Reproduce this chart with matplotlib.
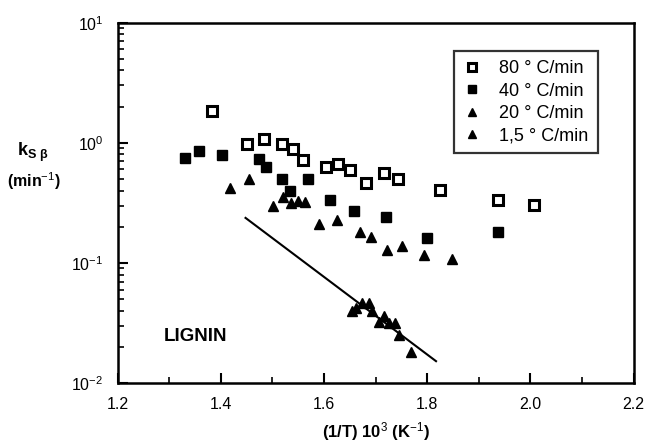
import matplotlib.pyplot as plt
from matplotlib.ticker import LogLocator, MultipleLocator, NullFormatter
import numpy as np

plt.rcParams['font.family'] = ['Liberation Sans', 'DejaVu Sans']
plt.rcParams['mathtext.fontset'] = 'custom'
plt.rcParams['mathtext.rm'] = 'Liberation Sans'
plt.rcParams['mathtext.it'] = 'Liberation Sans'
plt.rcParams['mathtext.bf'] = 'Liberation Sans:bold'

# 80 C/min (open squares)
x80 = [1.383, 1.450, 1.483, 1.518, 1.539, 1.559, 1.604, 1.628, 1.651, 1.681,
       1.716, 1.743, 1.825, 1.937, 2.007]
k80 = [1.85, 0.972, 1.076, 0.977, 0.893, 0.72, 0.632, 0.662, 0.594, 0.46,
       0.557, 0.502, 0.401, 0.332, 0.302]

# 40 C/min (filled squares)
x40 = [1.331, 1.358, 1.403, 1.474, 1.488, 1.518, 1.569, 1.535, 1.611, 1.659,
       1.721, 1.799, 1.938]
k40 = [0.747, 0.855, 0.791, 0.729, 0.632, 0.497, 0.497, 0.399, 0.334, 0.268,
       0.243, 0.161, 0.18]

# 20 C/min (triangles)
x20 = [1.417, 1.454, 1.502, 1.520, 1.537, 1.549, 1.564, 1.591, 1.626, 1.670,
       1.692, 1.722, 1.752, 1.794, 1.847]
k20 = [0.418, 0.50, 0.298, 0.354, 0.313, 0.328, 0.323, 0.21, 0.228, 0.182,
       0.165, 0.129, 0.138, 0.117, 0.107]

# 1,5 C/min (triangles)
x15 = [1.654, 1.662, 1.674, 1.687, 1.693, 1.707, 1.717, 1.725, 1.738, 1.746, 1.769]
k15 = [0.040, 0.0419, 0.0461, 0.0461, 0.040, 0.0324, 0.0361, 0.0318, 0.0314,
       0.0251, 0.0182]

# fitted line for 1,5 C/min
xfit = [1.448, 1.817]
kfit = [0.237, 0.0152]

fig = plt.figure(figsize=(6.51, 4.43), dpi=100)
ax = fig.add_axes([0.1805, 0.1354, 0.793, 0.8134])

ax.plot(x80, k80, 's', ms=6.5, mfc='white', mec='black', mew=2.2, label='80 ° C/min')
ax.plot(x40, k40, 's', ms=7.5, color='black', label='40 ° C/min')
ax.plot(x20, k20, '^', ms=7.5, color='black', label='20 ° C/min')
ax.plot(x15, k15, '^', ms=7.5, color='black', label='1,5 ° C/min')
ax.plot(xfit, kfit, '-', color='black', lw=1.5)

ax.set_yscale('log')
ax.set_xlim(1.2, 2.2)
ax.set_ylim(1e-2, 1e1)

ax.xaxis.set_major_locator(MultipleLocator(0.2))
ax.xaxis.set_minor_locator(MultipleLocator(0.1))
ax.xaxis.set_major_formatter(plt.FuncFormatter(lambda v, p: '{:.1f}'.format(v)))
ax.yaxis.set_major_locator(LogLocator(base=10, numticks=10))
ax.yaxis.set_minor_locator(LogLocator(base=10, subs=np.arange(2, 10), numticks=10))
ax.yaxis.set_minor_formatter(NullFormatter())

ax.tick_params(which='both', direction='in', top=False, right=False, labelsize=11.5)
ax.tick_params(which='major', length=7, width=1.5)
ax.tick_params(which='minor', length=4, width=1.2)
ax.tick_params(axis='x', pad=10)
ax.tick_params(axis='y', pad=10)

for s in ax.spines.values():
    s.set_linewidth(1.8)

ax.set_xlabel('(1/T) 10$^{3}$ (K$^{-1}$)', fontsize=12, fontweight='bold', labelpad=6)
fig.text(0.026, 0.655, r'k$_{\mathbf{S\ \beta}}$', fontsize=13, fontweight='bold',
         ha='left', va='center')
fig.text(0.011, 0.59, '(min$^{-1}$)', fontsize=11.5, fontweight='bold',
         ha='left', va='center')
ax.text(1.29, 0.0245, 'LIGNIN', fontsize=13.5, fontweight='bold', va='center')

leg = ax.legend(loc='upper right', bbox_to_anchor=(0.93, 0.921), fontsize=13,
                frameon=True, fancybox=False, edgecolor='black', handlelength=1.0,
                handletextpad=1.0, borderpad=0.5, labelspacing=0.3,
                markerscale=0.85, borderaxespad=0)
leg.get_frame().set_linewidth(1.6)

fig.savefig('out.png', dpi=100)
